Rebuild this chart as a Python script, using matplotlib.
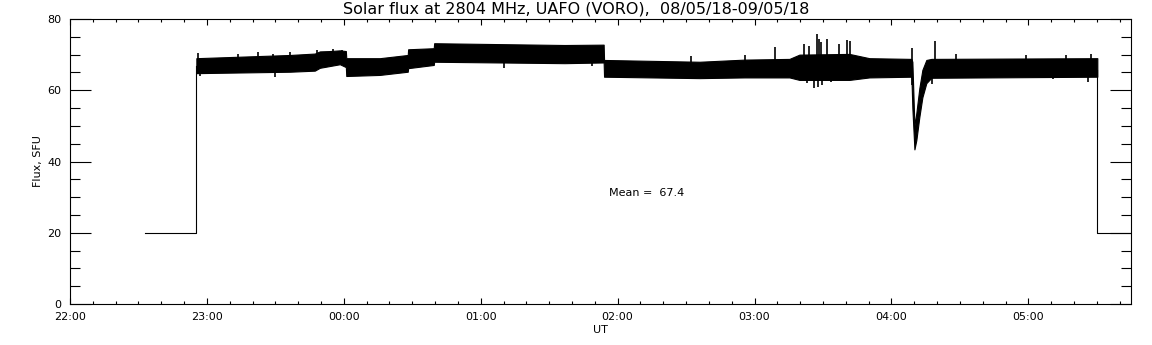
import numpy as np
import matplotlib
matplotlib.use('Agg')
import matplotlib.pyplot as plt
from matplotlib.ticker import MultipleLocator, FixedLocator

# time axis in hours after 22:00 UT
hour_ticks = [0, 1, 2, 3, 4, 5, 6, 7]
hour_labels = ['22:00', '23:00', '00:00', '01:00', '02:00', '03:00', '04:00', '05:00']

# flat "no signal" level before / after the observation
off_level = 20.0
off_start, obs_start, obs_end, off_end = 0.547, 0.923, 7.504, 7.75

# envelope of the noisy flux record
band_t = [0.923, 1.606, 1.788, 1.825, 1.898, 1.971, 2.015, 2.018, 2.263, 2.467,
          2.470, 2.657, 2.660, 3.613, 3.898, 3.901, 4.599, 4.927, 5.255, 5.328,
          5.693, 5.839, 6.146, 6.153, 6.168, 6.182, 6.204, 6.226, 6.255, 6.292, 7.504]
band_lo = [64.8, 65.2, 65.5, 66.3, 66.8, 67.3, 66.5, 64.0, 64.3, 65.2,
           66.2, 67.1, 68.0, 67.6, 67.8, 63.8, 63.4, 63.6, 63.6, 62.9,
           62.9, 63.6, 63.8, 55.0, 43.4, 46.0, 52.5, 58.0, 62.0, 63.5, 63.8]
band_hi = [69.0, 69.9, 70.3, 70.9, 71.0, 71.2, 71.0, 69.0, 69.0, 69.9,
           71.5, 71.8, 73.2, 72.7, 72.8, 68.5, 68.0, 68.6, 68.8, 70.0,
           70.2, 69.0, 68.8, 68.0, 50.0, 53.6, 60.6, 65.7, 68.5, 68.8, 69.0]

# isolated spikes sticking out of the band
spike_t = [0.934, 1.226, 1.372, 1.482, 1.606, 1.803, 1.920, 1.985, 3.168, 3.810,
           4.533, 4.927, 5.146, 5.365, 5.401, 5.453, 5.474, 5.489, 5.533, 5.620,
           5.672, 5.701, 6.153, 6.321, 6.474, 6.985, 7.277, 7.460,
           0.949, 1.496, 5.438, 5.467, 5.496, 5.380, 5.562, 7.438, 6.299, 7.182]
spike_v = [70.4, 70.2, 70.8, 70.2, 70.6, 71.3, 71.6, 71.4, 66.2, 66.8,
           69.6, 70.0, 72.2, 73.0, 72.5, 75.8, 74.5, 73.5, 74.4, 73.0,
           74.1, 73.8, 71.9, 73.8, 70.2, 69.9, 69.9, 70.2,
           64.0, 63.8, 60.7, 61.0, 61.5, 62.0, 62.2, 62.4, 61.8, 63.2]

mean_flux = 67.4

fig = plt.figure(figsize=(11.52, 3.45), dpi=100)
ax = fig.add_axes([70/1152, 41/345, 1061/1152, 285/345])

lw = 0.8
ax.fill_between(band_t, band_lo, band_hi, color='black', linewidth=lw)
ax.plot([off_start, obs_start, obs_start], [off_level, off_level, band_lo[0] + 2],
        color='black', lw=lw)
ax.plot([obs_end, obs_end, off_end], [band_lo[-1] + 2, off_level, off_level],
        color='black', lw=lw)
band_mid = np.interp(spike_t, band_t, (np.array(band_lo) + np.array(band_hi)) / 2)
ax.vlines(spike_t, band_mid, spike_v, color='black', lw=1.2)

ax.text(3.94, 31.2, 'Mean =  %.1f' % mean_flux, fontsize=8, ha='left', va='center')

ax.set_xlim(0, 7.75)
ax.set_ylim(0, 80)
ax.xaxis.set_major_locator(FixedLocator(hour_ticks))
ax.set_xticklabels(hour_labels)
ax.xaxis.set_minor_locator(MultipleLocator(1/6))
ax.yaxis.set_major_locator(MultipleLocator(20))
ax.yaxis.set_minor_locator(MultipleLocator(5))
ax.tick_params(which='both', direction='in', top=True, right=True, width=0.8,
               labelsize=8, pad=6)
ax.tick_params(axis='x', which='major', length=4.1)
ax.tick_params(axis='x', which='minor', length=2)
ax.tick_params(axis='y', which='major', length=15)
ax.tick_params(axis='y', which='minor', length=7.5)
for s in ax.spines.values():
    s.set_linewidth(0.8)

ax.set_xlabel('UT', fontsize=8, labelpad=2)
ax.set_ylabel('Flux, SFU', fontsize=8, labelpad=3)
fig.text(0.5, 1 - 9/345, 'Solar flux at 2804 MHz, UAFO (VORO),  08/05/18-09/05/18',
         fontsize=11.5, ha='center', va='center')

fig.savefig('out.png', dpi=100)
